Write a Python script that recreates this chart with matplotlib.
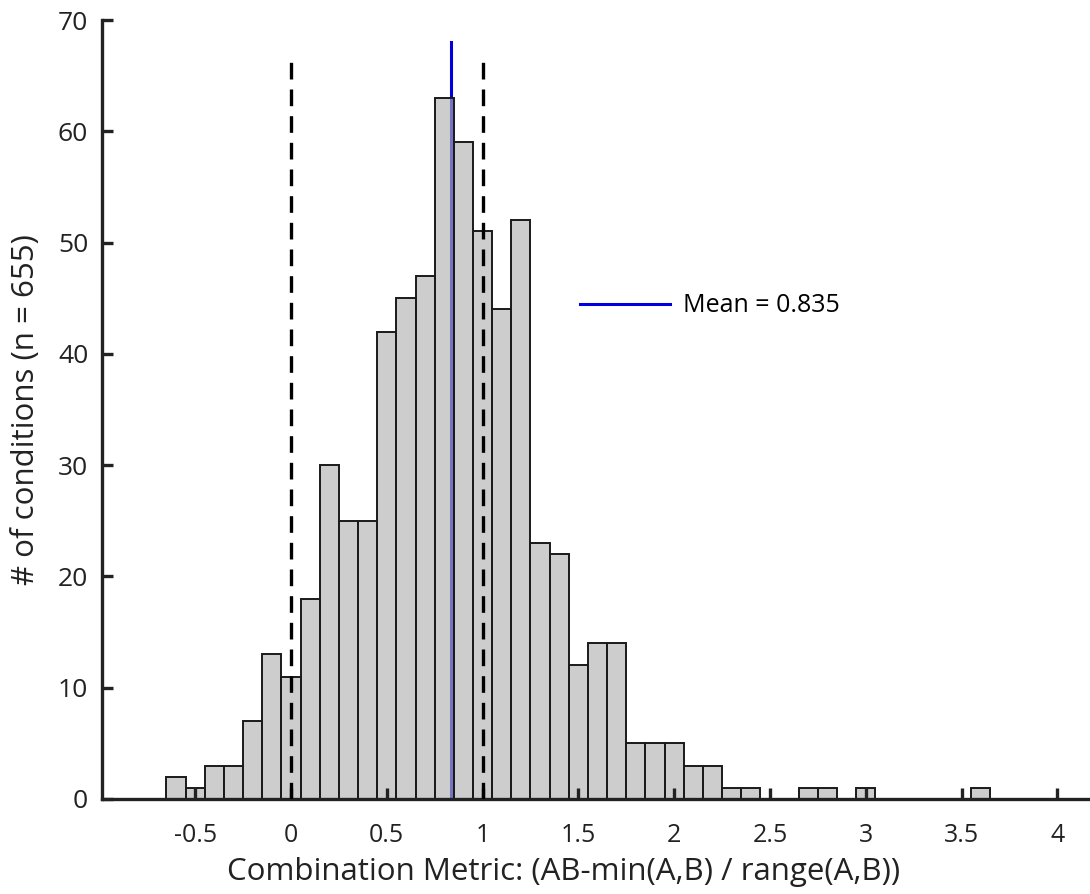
import matplotlib
matplotlib.use('Agg')
import matplotlib.pyplot as plt
import numpy as np

# histogram of the combination metric, bins of width 0.1 centred on multiples of 0.1
bin_centers = np.round(np.arange(-0.6, 3.65, 0.1), 2)
counts = [2, 1, 3, 3, 7, 13, 11, 18, 30, 25, 25, 42, 45, 47, 63, 59, 51, 44, 52, 23,
          22, 12, 14, 14, 5, 5, 5, 3, 3, 1, 1, 0, 0, 1, 1, 0, 1, 0, 0, 0, 0, 0, 1]
mean_value = 0.835
bounds = [0, 1]
x_ticks = [-0.5, 0, 0.5, 1, 1.5, 2, 2.5, 3, 3.5, 4]
y_ticks = [0, 10, 20, 30, 40, 50, 60, 70]

plt.rcParams['font.family'] = ['Open Sans', 'DejaVu Sans']

fig = plt.figure(figsize=(10.9, 8.94), dpi=100)
ax = fig.add_axes([0.0936, 0.1063, 0.9064, 0.8713])
ax.set_axisbelow(False)

# mean line sits behind the semi-transparent bars
ax.plot([mean_value, mean_value], [0, 68], color='#0000dd', lw=2.2, zorder=1,
        label='Mean = {:.3f}'.format(mean_value))
ax.bar(bin_centers, counts, width=0.1, facecolor=(0.70, 0.70, 0.70, 0.65),
       edgecolor='#1a1a1a', linewidth=1.4, zorder=2)
for b in bounds:
    ax.plot([b, b], [0, 67], color='k', lw=2.4, ls=(0, (5, 3)), zorder=3)

ax.set_xlim(-0.986, 4.17)
ax.set_ylim(0, 70)
ax.set_xticks(x_ticks)
ax.set_xticklabels([('%g' % t) for t in x_ticks])
ax.set_yticks(y_ticks)
for s in ['top', 'right']:
    ax.spines[s].set_visible(False)
for s in ['left', 'bottom']:
    ax.spines[s].set_linewidth(2.4)
    ax.spines[s].set_color('#222222')
ax.tick_params(direction='in', length=8, width=2.4, color='#222222', labelsize=18,
               labelcolor='#222222')
ax.tick_params(axis='x', pad=17)
ax.tick_params(axis='y', pad=10, labelsize=19)

ax.set_xlabel('Combination Metric: (AB-min(A,B) / range(A,B))', fontsize=22.5, color='#222222')
ax.xaxis.set_label_coords(0.467, -0.075)
ax.set_ylabel('# of conditions (n = 655)', fontsize=22.5, color='#222222')
ax.yaxis.set_label_coords(-0.062, 0.5)

ax.legend(loc='center left', bbox_to_anchor=(0.484, 0.633), frameon=False,
          handlelength=3.6, handletextpad=0.5, borderpad=0, borderaxespad=0,
          fontsize=18)

fig.savefig('out.png', dpi=100)
